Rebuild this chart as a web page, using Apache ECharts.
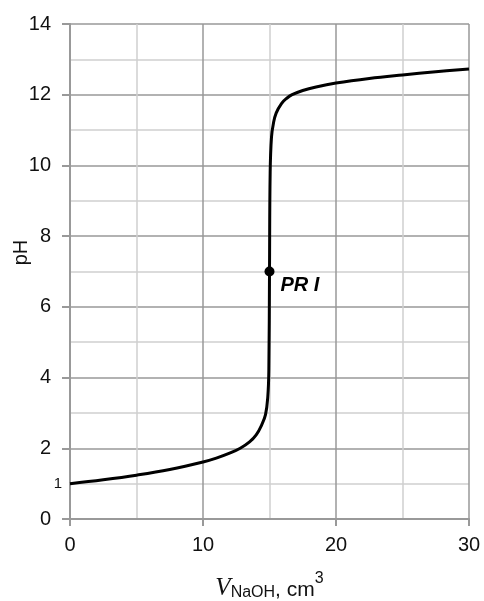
<!DOCTYPE html>
<html>
<head>
<meta charset="utf-8">
<script src="https://cdn.jsdelivr.net/npm/echarts@6/dist/echarts.min.js"></script>
<style>
  html, body { margin: 0; padding: 0; background: #fff; }
  #chart { width: 484px; height: 601px; }
</style>
</head>
<body>
<div id="chart"></div>
<script>
// titration curve
var volume = [0, 2.5, 5, 7.5, 10, 11, 12, 12.8, 13.5, 14, 14.4, 14.7, 14.87, 14.95, 15,
  15.05, 15.15, 15.3, 15.5, 15.9, 16.3, 16.7, 17.5, 18.5, 20, 22.5, 25, 27.5, 30];
var ph = [1.0, 1.11, 1.24, 1.4, 1.61, 1.72, 1.86, 2.0, 2.18, 2.38, 2.65, 2.95, 3.45, 4.2, 7.0,
  9.8, 10.8, 11.2, 11.48, 11.75, 11.9, 12.0, 12.12, 12.22, 12.33, 12.46, 12.56, 12.65, 12.73];
var pointV = [15];
var pointPh = [7];
var pointName = ["PR I"];

var curve = volume.map(function (v, i) { return [v, ph[i]]; });
var marks = pointV.map(function (v, i) { return { value: [v, pointPh[i]], name: pointName[i] }; });

var chart = echarts.init(document.getElementById("chart"));
var gray = "#999";
var light = "#cfcfcf";
var txt = "#111";

chart.setOption({
  animation: false,
  grid: { left: 70, right: 15, top: 24, bottom: 82, outerBoundsMode: "none" },
  xAxis: {
    type: "value",
    min: 0, max: 30, interval: 10,
    name: "{v|V}{sub|NaOH}{t|, cm}{sup|3}",
    nameLocation: "middle",
    nameGap: 52,
    nameMoveOverlap: false,
    nameTextStyle: {
      rich: {
        v: { fontFamily: "Liberation Serif", fontStyle: "italic", fontSize: 25, color: txt, verticalAlign: "bottom", lineHeight: 28 },
        sub: { fontFamily: "Liberation Sans", fontSize: 16, color: txt, verticalAlign: "bottom", lineHeight: 22 },
        t: { fontFamily: "Liberation Sans", fontSize: 21, color: txt, verticalAlign: "bottom", lineHeight: 28 },
        sup: { fontFamily: "Liberation Sans", fontSize: 16, color: txt, verticalAlign: "top", lineHeight: 30 }
      }
    },
    axisLine: { show: true, onZero: false, lineStyle: { color: gray, width: 2 } },
    axisTick: { show: true, length: 7, lineStyle: { color: gray, width: 2 } },
    axisLabel: { fontFamily: "Liberation Sans", fontSize: 20, color: txt, margin: 16 },
    splitLine: { show: true, showMinLine: false, showMaxLine: true, lineStyle: { color: gray, width: 1.5 } },
    minorTick: { show: false, splitNumber: 2 },
    minorSplitLine: { show: true, lineStyle: { color: light, width: 1.5 } }
  },
  yAxis: [{
    type: "value",
    min: 0, max: 14, interval: 2,
    name: "pH",
    nameLocation: "middle",
    nameGap: 39,
    nameMoveOverlap: false,
    nameTextStyle: { fontFamily: "Liberation Sans", fontSize: 20, color: txt, padding: [0, 0, 0, 38] },
    axisLine: { show: true, onZero: false, lineStyle: { color: gray, width: 2 } },
    axisTick: { show: true, length: 8, lineStyle: { color: gray, width: 2 } },
    axisLabel: { fontFamily: "Liberation Sans", fontSize: 20, color: txt, margin: 19 },
    splitLine: { show: true, showMinLine: false, showMaxLine: true, lineStyle: { color: gray, width: 1.5 } },
    minorTick: { show: false, splitNumber: 2 },
    minorSplitLine: { show: true, lineStyle: { color: light, width: 1.5 } }
  }, {
    // only the small "1" label on the left
    type: "value",
    position: "left",
    min: 0, max: 14, interval: 1,
    axisLine: { show: false },
    axisTick: { show: false },
    splitLine: { show: false },
    axisLabel: {
      fontFamily: "Liberation Sans", fontSize: 15, color: txt, margin: 8,
      formatter: function (v) { return v === 1 ? "1" : ""; }
    }
  }],
  series: [{
    type: "line",
    data: curve,
    smooth: 0.4,
    showSymbol: false,
    lineStyle: { color: "#000", width: 3 },
    z: 3
  }, {
    type: "scatter",
    data: marks,
    symbolSize: 10,
    itemStyle: { color: "#000", opacity: 1 },
    label: {
      show: true,
      position: "right",
      offset: [1, 14],
      formatter: "{b}",
      fontFamily: "Liberation Sans",
      fontStyle: "italic",
      fontWeight: "bold",
      fontSize: 20,
      color: "#000"
    },
    z: 4
  }]
});
</script>
</body>
</html>
